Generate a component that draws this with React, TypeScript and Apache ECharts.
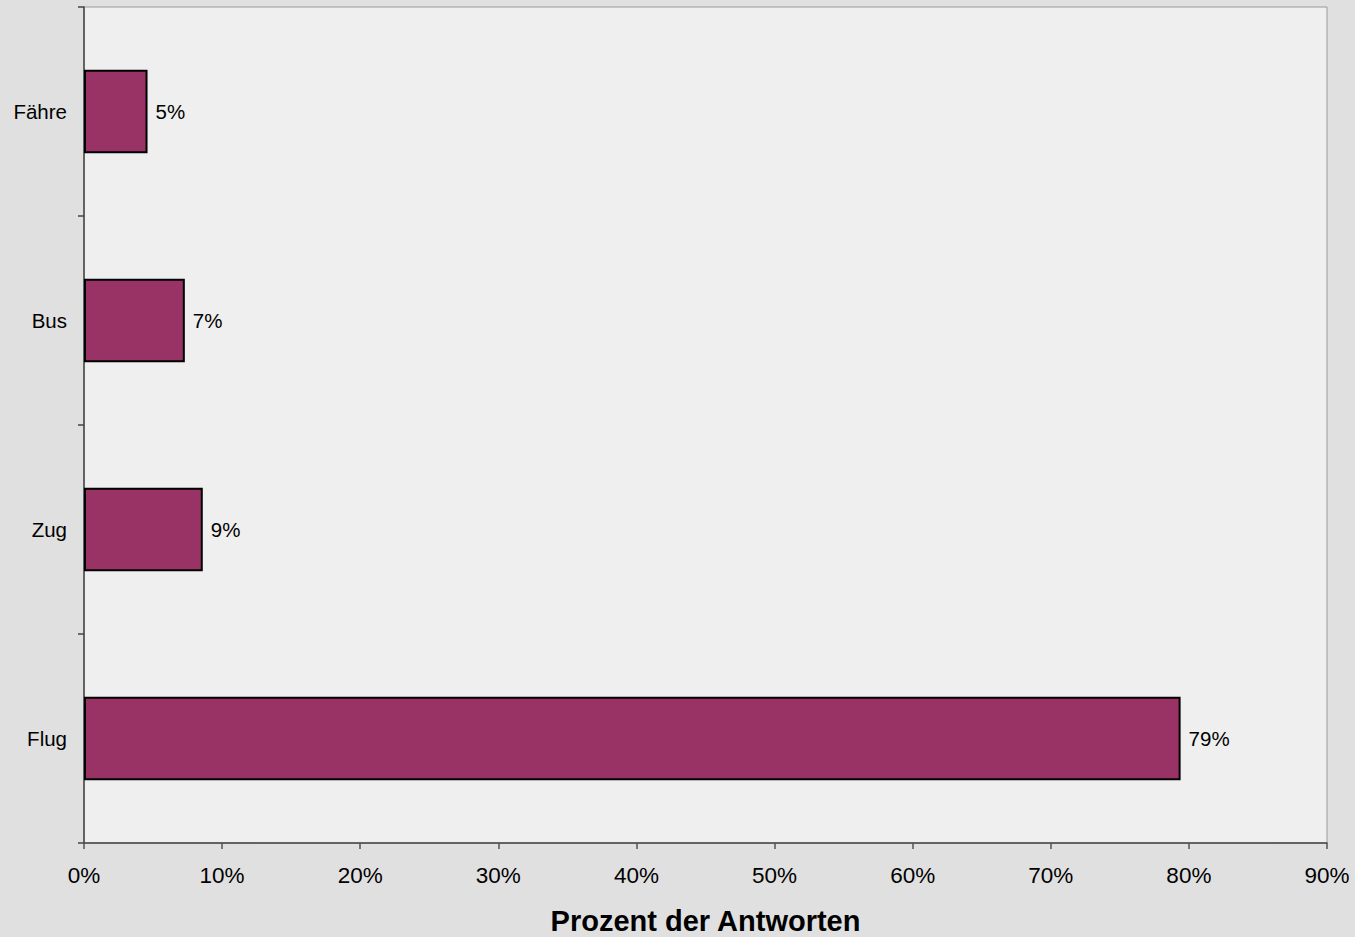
import React, { useEffect, useRef } from "react";
import * as echarts from "echarts";

const categories = ["Flug", "Zug", "Bus", "Fähre"];
const values = [79.4, 8.6, 7.3, 4.6];
const valueLabels = ["79%", "9%", "7%", "5%"];

export default function App() {
  const ref = useRef<HTMLDivElement>(null);
  useEffect(() => {
    if (!ref.current) return;
    const chart = echarts.init(ref.current, null, { renderer: "svg" });
    chart.setOption({
      animation: false,
      backgroundColor: "#e0e0e0",
      textStyle: { fontFamily: "Liberation Sans, Arial, sans-serif" },
      grid: {
        left: 84,
        right: 28,
        top: 7,
        bottom: 94,
        outerBoundsMode: "none",
        containLabel: false,
        show: true,
        backgroundColor: "#efefef",
        borderColor: "#9a9a9a",
        borderWidth: 1,
      },
      xAxis: {
        type: "value",
        min: 0,
        max: 90,
        interval: 10,
        axisLine: { show: true, lineStyle: { color: "#444", width: 1.5 } },
        axisTick: { show: true, length: 6, lineStyle: { color: "#555", width: 1.5 } },
        splitLine: { show: false },
        axisLabel: {
          formatter: "{value}%",
          color: "#000",
          fontSize: 22.5,
          margin: 21,
        },
        name: "Prozent der Antworten",
        nameLocation: "middle",
        nameGap: 63,
        nameTextStyle: { color: "#000", fontSize: 29, fontWeight: "bold" },
      },
      yAxis: {
        type: "category",
        data: categories,
        axisLine: { show: true, lineStyle: { color: "#444", width: 1.5 } },
        axisTick: { show: true, length: 6, lineStyle: { color: "#444", width: 1.5 } },
        axisLabel: { color: "#000", fontSize: 20.5, margin: 17 },
      },
      series: [
        {
          type: "bar",
          data: values,
          barWidth: "40%",
          itemStyle: { color: "#993366", borderColor: "#000", borderWidth: 2 },
          label: {
            show: true,
            position: "right",
            distance: 8,
            color: "#000",
            fontSize: 20.5,
            formatter: (p: any) => valueLabels[p.dataIndex],
          },
        },
      ],
    });
    return () => chart.dispose();
  }, []);
  return (
    <div
      ref={ref}
      style={{ position: "fixed", left: 0, top: 0, width: 1355, height: 937 }}
    />
  );
}
